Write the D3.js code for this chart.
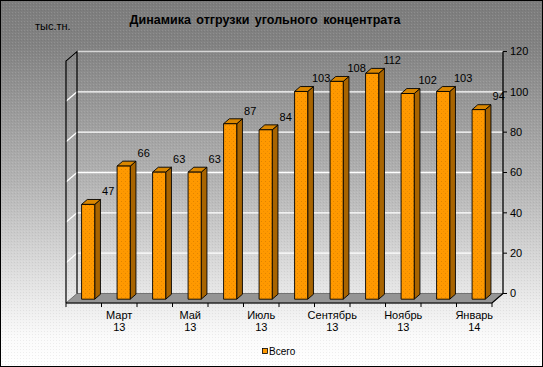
<!DOCTYPE html>
<html>
<head>
<meta charset="utf-8">
<script src="https://cdn.jsdelivr.net/npm/d3@7"></script>
<style>
  html, body { margin: 0; padding: 0; background: #fff; }
  svg { display: block; }
  text { font-family: Arial, "Liberation Sans", sans-serif; fill: #000; }
</style>
</head>
<body>
<svg id="chart" width="543" height="367"></svg>
<script>
// ---- data ----
const categories = ["Февраль 13", "Март 13", "Апрель 13", "Май 13", "Июнь 13", "Июль 13",
                    "Август 13", "Сентябрь 13", "Октябрь 13", "Ноябрь 13", "Декабрь 13", "Январь 14"];
const values = [47, 66, 63, 63, 87, 84, 103, 108, 112, 102, 103, 94];
const yTicks = [0, 20, 40, 60, 80, 100, 120];
const seriesName = "Всего";
const titleText = "Динамика отгрузки угольного концентрата";
const unitText = "тыс.тн.";

// ---- layout ----
const W = 543, H = 367;
const svg = d3.select("#chart");
const DX = 11, DY = -9.5;            // depth offset of the 3D box
const x0 = 66, x1 = 492, yBottom = 303, yTop = 61;

const x = d3.scaleBand().domain(categories).range([x0, x1]);
const xb = d3.scaleBand().domain(categories).range([x0, x1]).paddingInner(0.63).paddingOuter(0.315);
const y = d3.scaleLinear().domain([0, 120]).range([yBottom, yTop]);
const P = (px, v, d) => [px + d * DX, y(v) + d * DY];

const defs = svg.append("defs");
const bg = defs.append("linearGradient").attr("id", "bg").attr("x1", 0).attr("y1", 0).attr("x2", 0).attr("y2", 1);
bg.append("stop").attr("offset", "0%").attr("stop-color", "#7c7c7c");
bg.append("stop").attr("offset", "12%").attr("stop-color", "#828282");
bg.append("stop").attr("offset", "50%").attr("stop-color", "#b4b4b4");
bg.append("stop").attr("offset", "78%").attr("stop-color", "#e4e4e4");
bg.append("stop").attr("offset", "92%").attr("stop-color", "#fbfbfb");
bg.append("stop").attr("offset", "100%").attr("stop-color", "#ffffff");

const speck = defs.append("pattern").attr("id", "speck").attr("width", 3).attr("height", 3)
  .attr("patternUnits", "userSpaceOnUse");
speck.append("rect").attr("x", 0).attr("y", 0).attr("width", 1).attr("height", 1).attr("fill", "rgba(255,255,255,0.12)");
speck.append("rect").attr("x", 2).attr("y", 1).attr("width", 1).attr("height", 1).attr("fill", "rgba(0,0,0,0.06)");

const dots = defs.append("pattern").attr("id", "dots").attr("width", 4).attr("height", 4)
  .attr("patternUnits", "userSpaceOnUse");
dots.append("rect").attr("width", 4).attr("height", 4).attr("fill", "#ff9900");
dots.append("rect").attr("x", 1).attr("y", 1).attr("width", 1).attr("height", 1).attr("fill", "#e08400");
dots.append("rect").attr("x", 3).attr("y", 3).attr("width", 1).attr("height", 1).attr("fill", "#f08e00");

svg.append("rect").attr("width", W).attr("height", H).attr("fill", "url(#bg)");
svg.append("rect").attr("width", W).attr("height", H).attr("fill", "url(#speck)");

// ---- title & unit ----
svg.append("text").attr("x", 265).attr("y", 24).attr("text-anchor", "middle")
  .style("font-size", "12.5px").style("font-weight", "bold").style("word-spacing", "2px").text(titleText);
svg.append("text").attr("x", 35).attr("y", 30).style("font-size", "11px").text(unitText);

const line = d3.line();

// ---- floor ----
const floorPts = [P(x0, 0, 0), P(x1, 0, 0), P(x1, 0, 1), P(x0, 0, 1)];
svg.append("path").attr("d", line(floorPts) + "Z").attr("fill", "#959595").attr("stroke", "#606060").attr("stroke-width", 0.8);

// ---- gridlines (back wall + left wall) ----
const grid = svg.append("g");
yTicks.filter(t => t > 0).forEach(t => {
  const col = t === 120 ? "#d6d6d6" : "#ffffff";
  grid.append("path").attr("d", line([P(x0, t, 1), P(x1, t, 1)]))
    .attr("stroke", col).attr("stroke-width", 1.3).attr("fill", "none");
  grid.append("path").attr("d", line([P(x0, t, 0), P(x0, t, 1)]))
    .attr("stroke", col).attr("stroke-width", 1.3).attr("fill", "none");
});

// ---- left wall outline ----
svg.append("path").attr("d", line([P(x0, 0, 0), P(x0, 120, 0), P(x0, 120, 1), P(x0, 0, 1)]))
  .attr("fill", "none").attr("stroke", "#000").attr("stroke-width", 1.2);

// ---- category axis (front edge) ----
svg.append("path").attr("d", line([P(x0, 0, 0), P(x1, 0, 0), P(x1, 0, 1)]))
  .attr("fill", "none").attr("stroke", "#000").attr("stroke-width", 1.2);
const xTickPos = categories.map(c => x(c)).concat([x1]);
xTickPos.forEach(px => {
  svg.append("line").attr("x1", px).attr("x2", px).attr("y1", yBottom).attr("y2", yBottom + 4)
    .attr("stroke", "#000").attr("stroke-width", 1);
});
categories.forEach((c, i) => {
  if (i % 2 === 0) return;
  const parts = c.split(" ");
  const cx = x(c) + x.bandwidth() / 2;
  const t = svg.append("text").attr("text-anchor", "middle").style("font-size", "11px");
  t.append("tspan").attr("x", cx).attr("y", 319).text(parts[0]);
  t.append("tspan").attr("x", cx).attr("y", 331).text(parts[1]);
});

// ---- data labels (drawn before bars, as in the original) ----
values.forEach((v, i) => {
  const cx = xb(categories[i]) + xb.bandwidth() / 2;
  const [lx, ly] = P(cx, v, 0.4);
  svg.append("text").attr("x", lx + 20).attr("y", ly - 13).attr("dy", "0.35em")
    .attr("text-anchor", "middle").style("font-size", "11px").text(v);
});

// ---- bars ----
const dA = 0.4, dB = 0.92;
const bars = svg.append("g");
values.forEach((v, i) => {
  const bx0 = xb(categories[i]), bx1 = bx0 + xb.bandwidth();
  const g = bars.append("g");
  // side
  g.append("path").attr("d", line([P(bx1, 0, dA), P(bx1, 0, dB), P(bx1, v, dB), P(bx1, v, dA)]) + "Z")
    .attr("fill", "#a86400").attr("stroke", "#000").attr("stroke-width", 0.9);
  // top
  g.append("path").attr("d", line([P(bx0, v, dA), P(bx1, v, dA), P(bx1, v, dB), P(bx0, v, dB)]) + "Z")
    .attr("fill", "#d98600").attr("stroke", "#000").attr("stroke-width", 0.9);
  // front
  g.append("path").attr("d", line([P(bx0, 0, dA), P(bx1, 0, dA), P(bx1, v, dA), P(bx0, v, dA)]) + "Z")
    .attr("fill", "url(#dots)").attr("stroke", "#000").attr("stroke-width", 0.9);
});

// ---- value axis (back right) ----
svg.append("path").attr("d", line([P(x1, 0, 1), P(x1, 120, 1)]))
  .attr("stroke", "#000").attr("stroke-width", 1.3).attr("fill", "none");
yTicks.forEach(t => {
  const [px, py] = P(x1, t, 1);
  svg.append("line").attr("x1", px).attr("x2", px + 4).attr("y1", py).attr("y2", py)
    .attr("stroke", "#000").attr("stroke-width", 1);
  svg.append("text").attr("x", px + 7).attr("y", py).attr("dy", "0.35em")
    .style("font-size", "11px").text(t);
});

// ---- legend ----
svg.append("rect").attr("x", 262.5).attr("y", 348.5).attr("width", 5).attr("height", 5)
  .attr("fill", "#ff9900").attr("stroke", "#000").attr("stroke-width", 0.8);
svg.append("text").attr("x", 269).attr("y", 355).style("font-size", "10px").text(seriesName);

// ---- outer border ----
svg.append("rect").attr("x", 0.5).attr("y", 0.5).attr("width", W - 1).attr("height", H - 1)
  .attr("fill", "none").attr("stroke", "#000").attr("stroke-width", 1);
</script>
</body>
</html>
